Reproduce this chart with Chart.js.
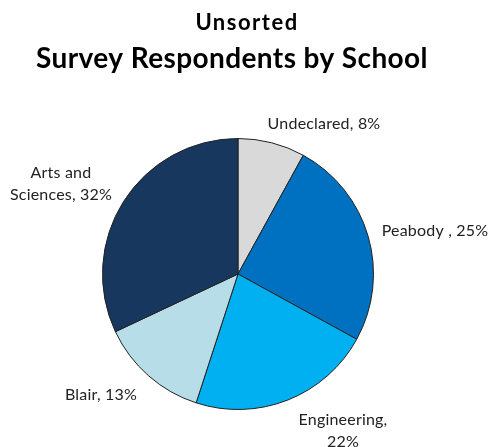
<!DOCTYPE html>
<html>
<head>
<meta charset="utf-8">
<script src="https://cdn.jsdelivr.net/npm/chart.js@4.4.1/dist/chart.umd.min.js"></script>
<style>
  html, body { margin: 0; padding: 0; background: #fff; }
  #wrap { width: 492px; height: 447px; }
</style>
</head>
<body>
<div id="wrap"><canvas id="school-pie"></canvas></div>
<script>
const schools = ['Undeclared', 'Peabody ', 'Engineering', 'Blair', 'Arts and Sciences']
const shares = [8, 25, 22, 13, 32]
const sliceColors = ['#D9D9D9', '#0070C0', '#00B0F0', '#B7DEE8', '#17375E']

// label text lines, and where each sits relative to the pie centre
const labelLines = [
  ['Undeclared, 8%'],
  ['Peabody , 25%'],
  ['Engineering,', '22%'],
  ['Blair, 13%'],
  ['Arts and', 'Sciences, 32%'],
]
const labelOffsets = [[86, -150], [197, -43], [105, 157], [-137, 121], [-177, -90]]

const titlesPlugin = {
  id: 'titles',
  afterDraw(chart) {
    const ctx = chart.ctx
    ctx.save()
    ctx.fillStyle = '#000'
    ctx.textAlign = 'center'
    ctx.textBaseline = 'alphabetic'
    ctx.font = 'bold 22px Lato'
    ctx.letterSpacing = '1.5px'
    ctx.fillText('Unsorted', 247, 30)
    ctx.font = 'bold 28px Lato'
    ctx.letterSpacing = '0.4px'
    ctx.fillText('Survey Respondents by School', 232, 68)
    ctx.restore()
  },
}

const sliceLabels = {
  id: 'sliceLabels',
  afterDatasetsDraw(chart) {
    const ctx = chart.ctx
    const arcs = chart.getDatasetMeta(0).data
    ctx.save()
    ctx.fillStyle = '#222'
    ctx.font = '16px Lato'
    ctx.letterSpacing = '0.2px'
    ctx.textAlign = 'center'
    ctx.textBaseline = 'middle'
    arcs.forEach((arc, i) => {
      const lines = labelLines[i]
      const lh = 22
      const cx = arc.x + labelOffsets[i][0]
      const cy = arc.y + labelOffsets[i][1] - ((lines.length - 1) * lh) / 2
      lines.forEach((t, j) => ctx.fillText(t, cx, cy + j * lh))
    })
    ctx.restore()
  },
}

const schoolPie = new Chart(document.getElementById('school-pie'), {
  type: 'pie',
  data: {
    labels: schools,
    datasets: [
      {
        data: shares,
        backgroundColor: sliceColors,
        borderColor: '#222',
        borderWidth: 1,
      },
    ],
  },
  options: {
    responsive: true,
    maintainAspectRatio: false,
    animation: false,
    layout: {
      padding: { top: 138, left: 102, right: 118, bottom: 37 },
    },
    plugins: {
      legend: { display: false },
      tooltip: { enabled: false },
      title: { display: false },
    },
  },
  plugins: [titlesPlugin, sliceLabels],
})
</script>
</body>
</html>
